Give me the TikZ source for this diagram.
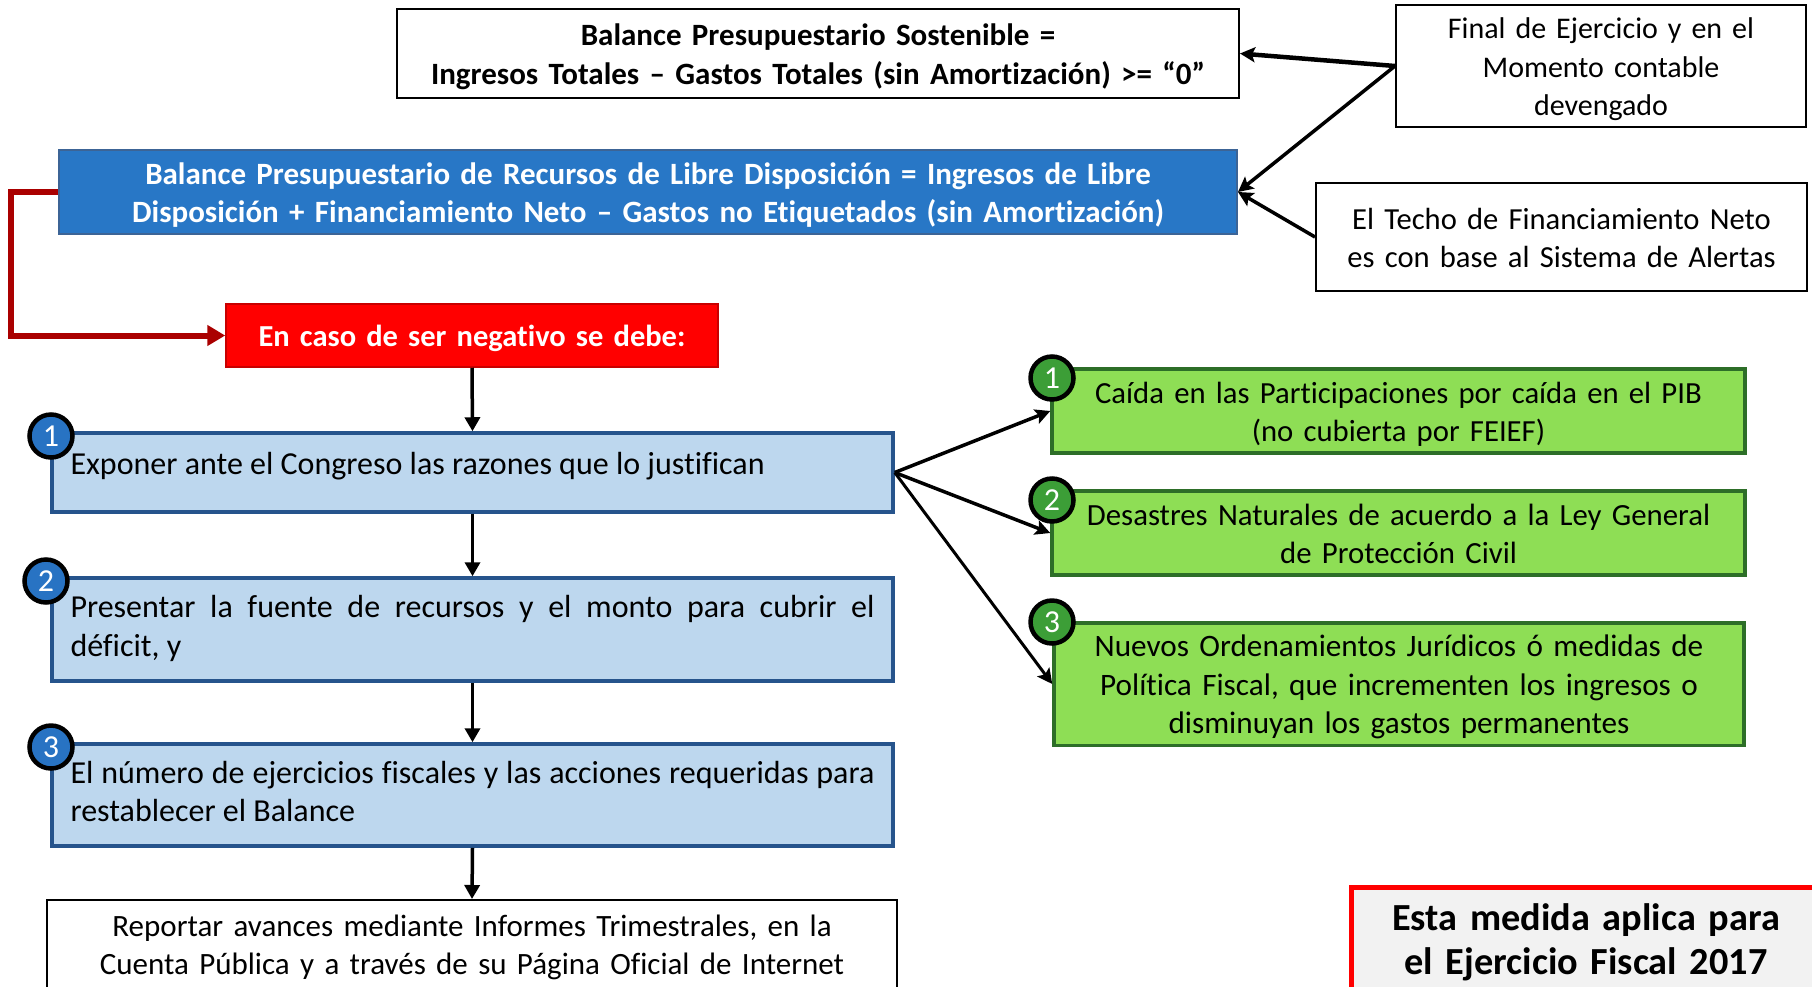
\documentclass[tikz,border=0pt]{standalone}
\usepackage{fontspec}
\setmainfont{Carlito}[Ligatures={NoCommon}]
\usetikzlibrary{arrows.meta}
\newcommand\fsz[1]{\fontsize{#1}{38.5}\selectfont}
\newcommand\fsbig{\fontsize{38.3}{44}\selectfont\bfseries}
\newcommand\tp{\rule{0pt}{34pt}}
\newcommand\bt{\rule[-11.5pt]{0pt}{11.5pt}}
\definecolor{lbfill}{RGB}{189,215,238}
\definecolor{lbdraw}{RGB}{38,84,140}
\definecolor{hbfill}{RGB}{40,119,198}
\definecolor{hbdraw}{RGB}{60,100,150}
\definecolor{bcirc}{RGB}{40,115,195}
\definecolor{gfill}{RGB}{142,222,85}
\definecolor{gdraw}{RGB}{45,110,40}
\definecolor{gcirc}{RGB}{60,158,55}
\definecolor{rdraw}{RGB}{200,0,0}
\definecolor{rline}{RGB}{170,0,0}
\definecolor{efill}{RGB}{242,242,242}
\begin{document}
\begin{tikzpicture}[x=1pt,y=-1pt,
  box/.style={rectangle, inner sep=0pt, align=center},
  plainbox/.style={box, draw=black, line width=2pt, fill=white},
  headbox/.style={box, draw=hbdraw, line width=2pt, fill=hbfill, text=white},
  redbox/.style={box, draw=rdraw, line width=1.5pt, fill=red, text=white},
  lbox/.style={rectangle, draw=lbdraw, fill=lbfill, line width=3.5pt, align=justify, font=\fsz{32},
    inner xsep=18.5pt, inner ysep=0pt, text width=804pt, minimum height=#1},
  gbox/.style={box, draw=gdraw, fill=gfill, line width=3.5pt},
  numcirc/.style={circle, draw=black, line width=4.5pt, minimum size=43pt, inner sep=0pt, text=white, font=\fsz{32}},
  arr/.style={draw=black, line width=3.5pt, -{Stealth[length=15pt,width=15pt,inset=3pt]}},
  varr/.style={draw=black, line width=3.5pt, -{Triangle[length=14pt,width=15pt]}}
]
\useasboundingbox (0,0) rectangle (1812,986);
\clip (0,0) rectangle (1812,986);

% top white boxes
\node[plainbox, font={\fsz{31}\bfseries}, minimum width=842pt, minimum height=89pt, text width=830pt] (top) at (818,53.5)
  {\tp Balance Presupuestario Sostenible =\\Ingresos Totales – Gastos Totales (sin Amortización) >= “0”\bt};
\node[plainbox, font=\fsz{30}, minimum width=410pt, minimum height=120pt, text width=400pt] (final) at (1601,66)
  {\tp Final de Ejercicio y en el\\Momento contable\\devengado\bt};
\node[headbox, font={\fsz{31}\bfseries}, minimum width=1178pt, minimum height=82pt, text width=1160pt] (head) at (648,192)
  {\tp Balance Presupuestario de Recursos de Libre Disposición = Ingresos de Libre\\Disposición + Financiamiento Neto – Gastos no Etiquetados (sin Amortización)\bt};
\node[plainbox, font=\fsz{30.6}, minimum width=491pt, minimum height=108pt, text width=480pt] (techo) at (1561.5,237)
  {\tp El Techo de Financiamiento Neto\\es con base al Sistema de Alertas\bt};
\node[redbox, font={\fsz{30.5}\bfseries}, minimum width=492pt, minimum height=63pt, text width=480pt] (neg) at (472,335.5)
  {\tp En caso de ser negativo se debe:\bt};

% left column
\node[lbox=79pt] (b1) at (472.5,472.5)
  {\strut Exponer ante el Congreso las razones que lo justifican\rule[-22pt]{0pt}{22pt}};
\node[lbox=103pt] (b2) at (472.5,629.5)
  {\strut Presentar la fuente de recursos y el monto para cubrir el\linebreak déficit, y\strut};
\node[lbox=102pt] (b3) at (472.5,795)
  {\strut El número de ejercicios fiscales y las acciones requeridas para\linebreak restablecer el Balance\strut};
\node[plainbox, font=\fsz{31}, minimum width=850pt, minimum height=96pt, text width=840pt] (rep) at (472,948)
  {\strut Reportar avances mediante Informes Trimestrales, en la\\Cuenta Pública y a través de su Página Oficial de Internet\strut};

% right column
\node[gbox, font=\fsz{30.7}, minimum width=693pt, minimum height=78pt, text width=680pt] (g1) at (1398.5,411)
  {\tp Caída en las Participaciones por caída en el PIB\\(no cubierta por FEIEF)\bt};
\node[gbox, font=\fsz{30.8}, minimum width=693pt, minimum height=72pt, text width=680pt] (g2) at (1398.5,533)
  {\tp Desastres Naturales de acuerdo a la Ley General\\de Protección Civil\bt};
\node[gbox, font=\fsz{31.2}, minimum width=690pt, minimum height=112pt, text width=680pt] (g3) at (1399,684)
  {\tp Nuevos Ordenamientos Jurídicos ó medidas de\\Política Fiscal, que incrementen los ingresos o\\disminuyan los gastos permanentes\bt};

\node[box, draw=red, line width=5pt, fill=efill, font=\fsbig, minimum width=470pt, minimum height=114pt, text width=460pt] (esta) at (1586,944)
  {\strut Esta medida aplica para\\el Ejercicio Fiscal 2017\strut};

% number circles
\node[numcirc, fill=bcirc] (n1) at (51,436) {1};
\node[numcirc, fill=bcirc] (n2) at (46,581) {2};
\node[numcirc, fill=bcirc] (n3) at (51,747) {3};
\node[numcirc, fill=gcirc] (m1) at (1052,378) {1};
\node[numcirc, fill=gcirc] (m2) at (1052,500) {2};
\node[numcirc, fill=gcirc] (m3) at (1052,622) {3};

% connectors
\draw[arr, line width=4.5pt] (final.west) -- (top.east);
\draw[arr] (final.west) -- (head.east);
\draw[arr] (techo.west) -- (head.east);
\draw[draw=rline, line width=6pt, -{Triangle[length=18pt,width=20pt]}] (head.west) -- ++(-47.5,0) |- (neg.west);
\draw[varr] (neg.south) -- (b1.north);
\draw[varr] (b1.south) -- (b2.north);
\draw[varr] (b2.south) -- (b3.north);
\draw[varr] (b3.south) -- (rep.north);
\draw[arr] (b1.east) -- (g1.west);
\draw[arr] (b1.east) -- (g2.west);
\draw[arr, line width=3pt] (b1.east) -- (g3.west);
\end{tikzpicture}
\end{document}
